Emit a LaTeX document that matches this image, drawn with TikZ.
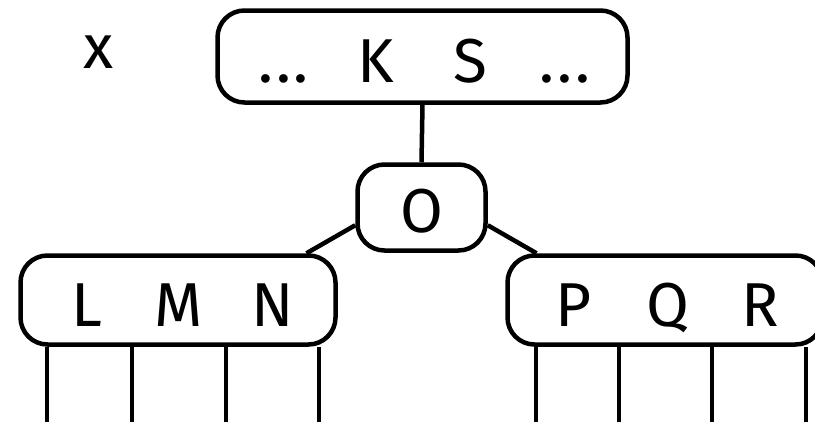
\documentclass[tikz,border=0pt]{standalone}
\usepackage{fontspec}
\setmainfont{Fira Sans}
\begin{document}
\begin{tikzpicture}[x=1pt,y=-1pt,
  box/.style={draw,line width=4.5pt,rounded corners=27pt,inner sep=0pt},
  lbl/.style={anchor=base,inner sep=0pt,font=\fontsize{62}{70}\selectfont},
  link/.style={line width=4.5pt}]
\useasboundingbox (0,0) rectangle (815,421);
\clip (0,0) rectangle (815,421);
% boxes
\node[box,minimum width=410pt,minimum height=92pt] (top) at (422.5,56.5) {};
\node[box,minimum width=128pt,minimum height=86pt] (o) at (421.5,207.5) {};
\node[box,minimum width=315pt,minimum height=89pt] (lb) at (178,300) {};
\node[box,minimum width=315pt,minimum height=89pt] (rb) at (665,300) {};
% labels
\node[lbl] (xl) at (98.5,68) {x};
\node[lbl] (d1) at (283.5,82) {.\kern3pt.\kern3pt.};
\node[lbl] (k) at (375.5,82) {K};
\node[lbl] (s) at (470,82) {S};
\node[lbl] (d2) at (565,82) {.\kern3pt.\kern3pt.};
\node[lbl] (ol) at (421.5,232) {O};
\node[lbl] (l) at (86.5,326) {L};
\node[lbl] (m) at (178.5,326) {M};
\node[lbl] (n) at (272.5,326) {N};
\node[lbl] (p) at (573.5,326) {P};
\node[lbl] (q) at (667.5,326) {Q};
\node[lbl] (r) at (760,326) {R};
% connectors
\draw[link] (top.south) -- (o.north);
\draw[link] (o.195) -- (lb.20);
\draw[link] (o.-15) -- (rb.160);
\foreach \dx in {-131,-46,48,141} {
  \draw[link] ([xshift=\dx pt]lb.south) -- ++(0,90);
}
\foreach \dx in {-129,-46,47,141} {
  \draw[link] ([xshift=\dx pt]rb.south) -- ++(0,90);
}
\end{tikzpicture}
\end{document}
